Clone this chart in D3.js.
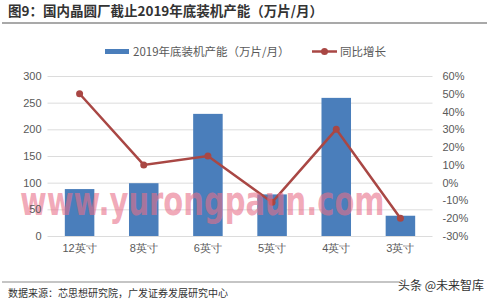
<!DOCTYPE html>
<html>
<head>
<meta charset="utf-8">
<title>晶圆厂装机产能</title>
<script src="https://d3js.org/d3.v7.min.js"></script>
<style>
  body { margin: 0; background: #fff; }
  svg { display: block; font-family: "Noto Sans CJK SC", "Liberation Sans", Arial, sans-serif; }
</style>
</head>
<body>
<div id="chart"></div>
<script>
// data
var categories = ["12英寸", "8英寸", "6英寸", "5英寸", "4英寸", "3英寸"];
var capacity = [88, 99, 229, 78, 259, 38];          // 万片/月
var growth = [0.50, 0.10, 0.15, -0.11, 0.30, -0.20]; // 同比增长
var leftTicks = [0, 50, 100, 150, 200, 250, 300];
var rightTicks = [-0.3, -0.2, -0.1, 0, 0.1, 0.2, 0.3, 0.4, 0.5, 0.6];

var W = 499, H = 301;
var plot = { left: 47.5, right: 432.5, top: 76, bottom: 236 };

var svg = d3.select("#chart").append("svg")
    .attr("width", W).attr("height", H);

svg.append("rect").attr("width", W).attr("height", H).attr("fill", "#fff");

var x = d3.scaleBand().domain(categories)
    .range([plot.left, plot.right]).paddingInner(0.54).paddingOuter(0.27);
var yL = d3.scaleLinear().domain([0, 300]).range([plot.bottom, plot.top]);
var yR = d3.scaleLinear().domain([-0.3, 0.6]).range([plot.bottom, plot.top]);

// title
svg.append("text").attr("x", 8).attr("y", 16)
    .attr("font-size", 13.5).attr("font-weight", "bold").attr("fill", "#333")
    .text("图9：国内晶圆厂截止2019年底装机产能（万片/月）");
svg.append("line").attr("x1", 2).attr("x2", 487).attr("y1", 23).attr("y2", 23)
    .attr("stroke", "#8c8c8c").attr("stroke-width", 1.5);

// gridlines
svg.append("g").selectAll("line").data(leftTicks).join("line")
    .attr("x1", plot.left).attr("x2", plot.right)
    .attr("y1", function(d){ return yL(d) + 0.5; })
    .attr("y2", function(d){ return yL(d) + 0.5; })
    .attr("stroke", "#dcdcdc").attr("stroke-width", 1);

// bars
svg.append("g").selectAll("rect").data(capacity).join("rect")
    .attr("x", function(d, i){ return x(categories[i]); })
    .attr("width", x.bandwidth())
    .attr("y", function(d){ return yL(d); })
    .attr("height", function(d){ return yL(0) - yL(d); })
    .attr("fill", "#4a7ebb");

// growth line
var line = d3.line()
    .x(function(d, i){ return x(categories[i]) + x.bandwidth() / 2; })
    .y(function(d){ return yR(d); });
svg.append("path").datum(growth).attr("d", line)
    .attr("fill", "none").attr("stroke", "#a94744").attr("stroke-width", 2.5);
svg.append("g").selectAll("circle").data(growth).join("circle")
    .attr("cx", function(d, i){ return x(categories[i]) + x.bandwidth() / 2; })
    .attr("cy", function(d){ return yR(d); })
    .attr("r", 3.5).attr("fill", "#a94744");

// watermark over the plot (squeezed horizontally)
svg.append("text")
    .attr("transform", "translate(20,215) scale(0.725,1)")
    .attr("font-size", 40).attr("font-weight", "bold")
    .attr("font-family", "DejaVu Sans, Liberation Sans, sans-serif")
    .attr("fill", "#e8708a").attr("fill-opacity", 0.6)
    .text("www.yurongpaun.com");

// left axis
var gl = svg.append("g").attr("transform", "translate(" + (plot.left - 6) + ",0)")
    .call(d3.axisLeft(yL).tickValues(leftTicks).tickSize(0).tickPadding(0));
gl.select(".domain").remove();
gl.selectAll("text").attr("font-size", 11).attr("fill", "#595959")
    .attr("font-family", "Liberation Sans, Arial, sans-serif");

// right axis
var gr = svg.append("g").attr("transform", "translate(" + (plot.right + 10) + ",0)")
    .call(d3.axisRight(yR).tickValues(rightTicks).tickSize(0).tickPadding(0)
        .tickFormat(d3.format(".0%")));
gr.select(".domain").remove();
gr.selectAll("text").attr("font-size", 11).attr("fill", "#595959")
    .attr("font-family", "Liberation Sans, Arial, sans-serif")
    .text(function(d){ return Math.round(d * 100) + "%"; });

// bottom axis labels
var gx = svg.append("g").attr("transform", "translate(0," + (plot.bottom + 8) + ")")
    .call(d3.axisBottom(x).tickSize(0).tickPadding(0));
gx.select(".domain").remove();
gx.selectAll("text").attr("font-size", 11).attr("fill", "#595959");

// legend
var lg = svg.append("g").attr("font-size", 11.5).attr("fill", "#595959");
lg.append("rect").attr("x", 105).attr("y", 49).attr("width", 24).attr("height", 5).attr("fill", "#4a7ebb");
lg.append("text").attr("x", 133).attr("y", 56).attr("fill", "#595959").text("2019年底装机产能（万片/月）");
lg.append("line").attr("x1", 312).attr("x2", 337).attr("y1", 51.5).attr("y2", 51.5)
    .attr("stroke", "#a94744").attr("stroke-width", 2.5);
lg.append("circle").attr("cx", 324.5).attr("cy", 51.5).attr("r", 3.5).attr("fill", "#a94744");
lg.append("text").attr("x", 340).attr("y", 56).attr("fill", "#595959").text("同比增长");

// source line
svg.append("line").attr("x1", 2).attr("x2", 400).attr("y1", 282).attr("y2", 282)
    .attr("stroke", "#8c8c8c").attr("stroke-width", 1.2);
svg.append("text").attr("x", 8).attr("y", 297)
    .attr("font-size", 10).attr("fill", "#333")
    .text("数据来源：芯思想研究院，广发证券发展研究中心");
svg.append("text").attr("x", 398).attr("y", 290)
    .attr("font-size", 12).attr("fill", "#333")
    .text("头条 @未来智库");
</script>
</body>
</html>
